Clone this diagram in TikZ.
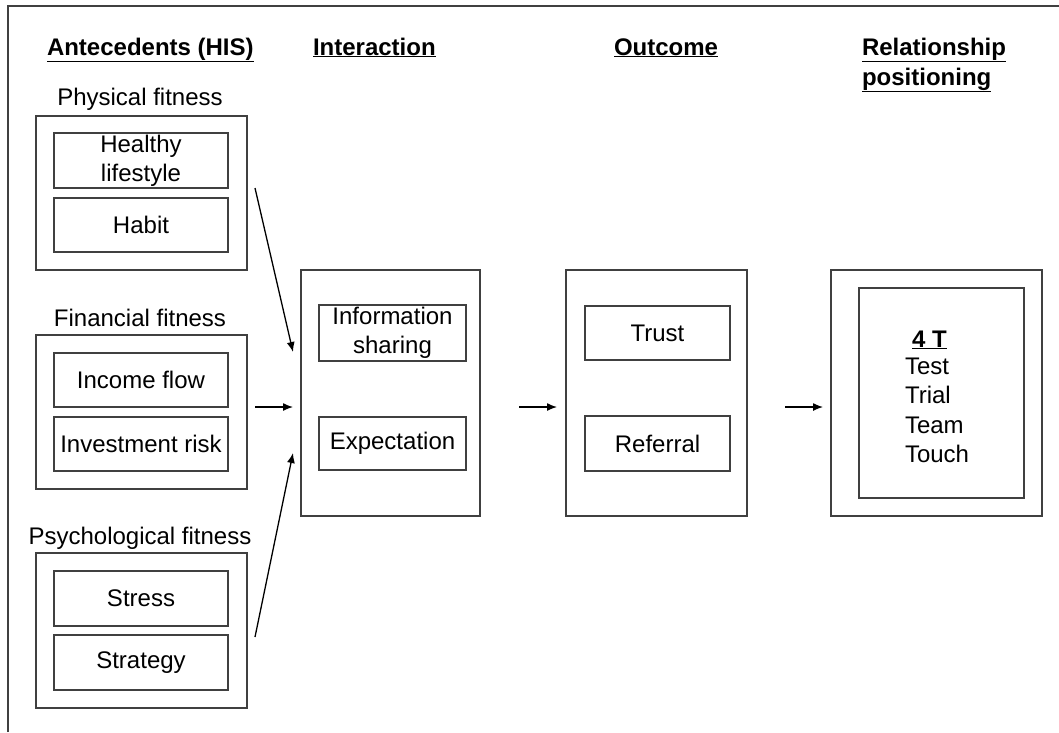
\documentclass[tikz,border=0pt]{standalone}
\usepackage{fontspec}
\setmainfont{Liberation Sans}
\usetikzlibrary{arrows.meta}
\begin{document}
\begin{tikzpicture}[x=1pt,y=-1pt,
  every node/.style={font=\fontsize{24}{30}\selectfont, inner sep=0pt, outer sep=0pt},
  box/.style={draw=black!75, line width=1.3pt, rectangle, inner sep=0pt, align=center, font=\fontsize{24}{29}\selectfont},
  hdr/.style={font=\fontsize{24}{30}\selectfont\bfseries, anchor=base west, align=left},
  lbl/.style={anchor=base},
  arr/.style={-{Latex[length=10pt,width=8pt]}, line width=1.3pt, black}
]
\useasboundingbox (0,0) rectangle (1059,732);
% frame
\draw[line width=1.3pt, black!75] (8,732) -- (8,6) -- (1059,6);

% headers
\node[hdr] (hA) at (47,55) {\underline{Antecedents (HIS)}};
\node[hdr] (hI) at (313,55) {\underline{Interaction}};
\node[hdr] (hO) at (614,55) {\underline{Outcome}};
\node[hdr] (hR1) at (862,55) {\underline{Relationship}};
\node[hdr] (hR2) at (862,85) {\underline{positioning}};

% antecedents
\node[lbl] (lPhys) at (140,105) {Physical fitness};
\node[box, minimum width=211pt, minimum height=154pt] (bPhys) at (141.5,193) {};
\node[box, minimum width=174pt, minimum height=55pt] (bHealthy) at (141,160.5) {Healthy\\lifestyle};
\node[box, minimum width=174pt, minimum height=54pt] (bHabit) at (141,225) {Habit};

\node[lbl] (lFin) at (140,326) {Financial fitness};
\node[box, minimum width=211pt, minimum height=154pt] (bFin) at (141.5,412) {};
\node[box, minimum width=174pt, minimum height=54pt] (bIncome) at (141,380) {Income flow};
\node[box, minimum width=174pt, minimum height=54pt] (bInvest) at (141,444) {Investment risk};

\node[lbl] (lPsy) at (140,544) {Psychological fitness};
\node[box, minimum width=211pt, minimum height=155pt] (bPsy) at (141.5,630.5) {};
\node[box, minimum width=174pt, minimum height=55pt] (bStress) at (141,598.5) {Stress};
\node[box, minimum width=174pt, minimum height=55pt] (bStrat) at (141,662.5) {Strategy};

% interaction
\node[box, minimum width=179pt, minimum height=246pt] (bInter) at (390.5,393) {};
\node[box, minimum width=147pt, minimum height=56pt] (bInfo) at (392.5,333) {Information\\sharing};
\node[box, minimum width=147pt, minimum height=53pt] (bExp) at (392.5,443.5) {Expectation};

% outcome
\node[box, minimum width=181pt, minimum height=246pt] (bOut) at (656.5,393) {};
\node[box, minimum width=145pt, minimum height=54pt] (bTrust) at (657.5,333) {Trust};
\node[box, minimum width=145pt, minimum height=55pt] (bRef) at (657.5,443.5) {Referral};

% relationship
\node[box, minimum width=211pt, minimum height=246pt] (bRel) at (936.5,393) {};
\node[box, minimum width=165pt, minimum height=210pt] (bRelIn) at (941.5,393) {};
\node[anchor=base west, font=\fontsize{24}{30}\selectfont\bfseries] (t4) at (912,347) {\underline{4 T}};
\node[anchor=base west] (tTest) at (905,374) {Test};
\node[anchor=base west] (tTrial) at (905,403) {Trial};
\node[anchor=base west] (tTeam) at (905,433) {Team};
\node[anchor=base west] (tTouch) at (905,462) {Touch};

% arrow endpoints
\coordinate (a1s) at (255,188);
\coordinate (a1e) at (293,352);
\coordinate (a2s) at (255,407);
\coordinate (a2e) at (293,407);
\coordinate (a3s) at (255,637);
\coordinate (a3e) at (293,453);
\coordinate (a4s) at (519,407);
\coordinate (a4e) at (557,407);
\coordinate (a5s) at (785,407);
\coordinate (a5e) at (823,407);
\draw[arr] (a1s) -- (a1e);
\draw[arr] (a2s) -- (a2e);
\draw[arr] (a3s) -- (a3e);
\draw[arr] (a4s) -- (a4e);
\draw[arr] (a5s) -- (a5e);
\end{tikzpicture}
\end{document}
